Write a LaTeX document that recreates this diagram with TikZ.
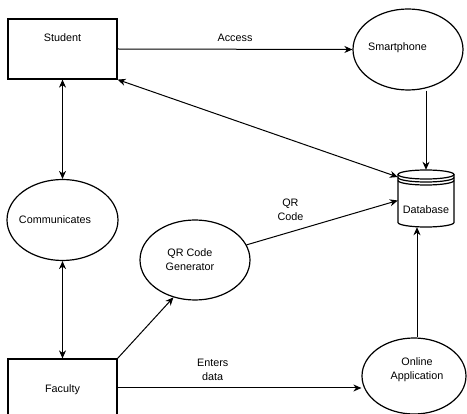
\documentclass[tikz,border=0pt]{standalone}
\usepackage{fontspec}
\setmainfont{Liberation Sans}
\usetikzlibrary{shapes.geometric,arrows.meta}
\tikzset{
  shapeline/.style={draw=black, line width=1.2pt},
  boxnode/.style={shapeline, rectangle, minimum width=109pt, minimum height=60pt, inner sep=0pt},
  ellnode/.style={shapeline, ellipse, inner sep=0pt},
  conn/.style={draw=black, line width=1pt},
  tip/.style={-{Stealth[length=8pt,width=7pt,inset=2.5pt]}},
  tiptwo/.style={{Stealth[length=8pt,width=7pt,inset=2.5pt]}-{Stealth[length=8pt,width=7pt,inset=2.5pt]}},
  lbl/.style={font=\fontsize{10.8}{14}\selectfont, align=center, inner sep=0pt},
  every label/.style={font=\fontsize{10.8}{14}\selectfont, align=center, inner sep=0pt},
}
\begin{document}
\begin{tikzpicture}[x=1pt,y=-1pt]
\useasboundingbox (0,0) rectangle (467,414);
\clip (0,0) rectangle (467,414);
\fill[white] (0,0) rectangle (467,414);

% boxes
\node[boxnode, label={[yshift=11pt]center:Student}] (stu) at (62.5,49) {};
\node[boxnode, minimum height=58pt, label={[yshift=-2pt]center:Faculty}] (fac) at (62.5,388) {};

% ellipses
\node[ellnode, minimum width=110pt, minimum height=81pt,
      label={[xshift=-10.5pt,yshift=1.5pt]center:Smartphone}] (sp) at (408,49.5) {};
\node[ellnode, minimum width=111pt, minimum height=81pt,
      label={[xshift=-7.5pt]center:Communicates}] (com) at (62.5,220) {};
\node[ellnode, minimum width=110pt, minimum height=80pt,
      label={[xshift=-5pt]center:QR Code\\Generator}] (qr) at (195,260) {};
\node[ellnode, minimum width=104pt, minimum height=76pt,
      label={[xshift=3pt,yshift=6pt]center:Online\\Application}] (on) at (414,376) {};

% database (cylinder)
\draw[shapeline, fill=white] (398,174.5) -- (398,222.5)
  arc[start angle=180, end angle=360, x radius=28pt, y radius=4.5pt] -- (454,174.5);
\draw[shapeline] (426,174.5) ellipse[x radius=28pt, y radius=4.5pt];
\draw[shapeline] (398,177.5) arc[start angle=180, end angle=360, x radius=28pt, y radius=4.5pt];
\draw[shapeline] (398,180.5) arc[start angle=180, end angle=360, x radius=28pt, y radius=4.5pt];
\node[rectangle, minimum width=56pt, minimum height=57pt, inner sep=0pt,
      label={[yshift=-11.5pt]center:Database}] (db) at (426,198.5) {};

% connectors
\draw[conn, tip] (stu.east) -- node[lbl, yshift=11pt] {Access} (sp.west);
\draw[conn, tip] (sp.south -| db.north) -- (db.north);
\draw[conn, tiptwo] (stu.south east) -- ([yshift=21.5pt]db.west);
\draw[conn, tiptwo] (stu.south) -- (com.north);
\draw[conn, tiptwo] (com.south) -- (fac.north);
\draw[conn, tip] (qr) -- node[lbl, pos=0.29, yshift=22pt] {QR\\Code} ([yshift=-2pt]db.west);
\draw[conn, tip] (fac.north east) -- (qr.240);
\draw[conn, tip] (fac.east) -- node[lbl, pos=0.39, yshift=18pt] {Enters\\data} (fac.east -| on.west);
\draw[conn, tip] ([xshift=3pt]on.north) -- ([xshift=3pt]on.north |- db.south);
\end{tikzpicture}
\end{document}
